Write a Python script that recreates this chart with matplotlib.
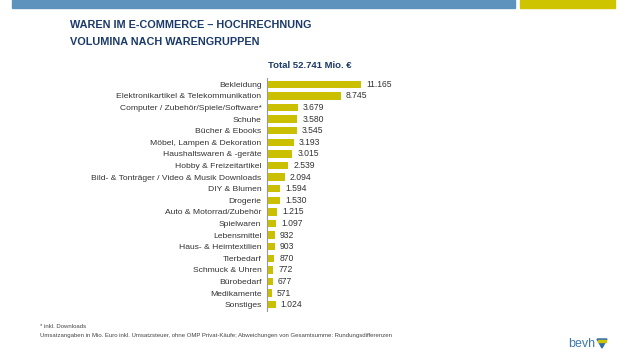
import matplotlib
matplotlib.use("Agg")
import matplotlib.pyplot as plt
from matplotlib.patches import Rectangle, Polygon

# warengruppen und umsatz in mio. euro
kategorien = ["Bekleidung", "Elektronikartikel & Telekommunikation",
              "Computer / Zubehör/Spiele/Software*", "Schuhe", "Bücher & Ebooks",
              "Möbel, Lampen & Dekoration", "Haushaltswaren & -geräte",
              "Hobby & Freizeitartikel", "Bild- & Tonträger / Video & Musik Downloads",
              "DIY & Blumen", "Drogerie", "Auto & Motorrad/Zubehör", "Spielwaren",
              "Lebensmittel", "Haus- & Heimtextilien", "Tierbedarf",
              "Schmuck & Uhren", "Bürobedarf", "Medikamente", "Sonstiges"]
werte = [11165, 8745, 3679, 3580, 3545, 3193, 3015, 2539, 2094,
         1594, 1530, 1215, 1097, 932, 903, 870, 772, 677, 571, 1024]
labels = ["11.165", "8.745", "3.679", "3.580", "3.545", "3.193", "3.015", "2.539", "2.094",
          "1.594", "1.530", "1.215", "1.097", "932", "903", "870", "772", "677", "571", "1.024"]

gelb = "#cbc000"
blau_titel = "#1b3a6b"

fig = plt.figure(figsize=(6.2, 3.5), dpi=100)
fig.patch.set_facecolor("white")

# balken oben
fig.patches.append(Rectangle((12/620, 1-8/350), 503/620, 8/350, transform=fig.transFigure,
                             color="#5e93bd", zorder=0))
fig.patches.append(Rectangle((520/620, 1-8/350), 95/620, 8/350, transform=fig.transFigure,
                             color="#cec400", zorder=0))

fig.text(70/620, 1-25/350, "WAREN IM E-COMMERCE – HOCHRECHNUNG", fontsize=7.8,
         fontweight="bold", color=blau_titel, family="Liberation Sans", va="center")
fig.text(70/620, 1-42/350, "VOLUMINA NACH WARENGRUPPEN", fontsize=7.8,
         fontweight="bold", color=blau_titel, family="Liberation Sans", va="center")
fig.text(310/620, 1-66/350, "Total 52.741 Mio. €", fontsize=6.8, fontweight="bold",
         color=blau_titel, family="Liberation Sans", ha="center", va="center")

ax = fig.add_axes([267/620, 1-310.5/350, 200/620, 232/350])
y = list(range(len(kategorien)))
ax.barh(y, werte, height=0.64, color=gelb)
ax.set_ylim(len(kategorien) - 0.5, -0.5)
ax.set_xlim(0, 11165 * 200 / 94)
ax.set_yticks(y)
ax.set_yticklabels(kategorien, fontsize=6.1, family="Liberation Sans", color="#333333")
ax.tick_params(axis="y", length=0, pad=4)
ax.set_xticks([])
for s in ["top", "right", "bottom"]:
    ax.spines[s].set_visible(False)
ax.spines["left"].set_color("#999999")
ax.spines["left"].set_linewidth(0.8)
for yi, w, t in zip(y, werte, labels):
    ax.text(w + 600, yi, t, fontsize=6.2, family="Liberation Sans", color="#333333",
            va="center", ha="left")

fig.text(40/620, 1-326.5/350, "* inkl. Downloads", fontsize=4.3,
         family="Liberation Sans", color="#444444", va="center")
fig.text(40/620, 1-336/350,
         "Umsatzangaben in Mio. Euro inkl. Umsatzsteuer, ohne OMP Privat-Käufe; Abweichungen von Gesamtsumme: Rundungsdifferenzen",
         fontsize=4.3, family="Liberation Sans", color="#444444", va="center")

# logo unten rechts
fig.text(595/620, 1-344/350, "bevh", fontsize=9, family="Liberation Sans",
         color="#3b78b0", ha="right", va="center")
fig.patches.append(Polygon([(597/620, 1-339/350), (607/620, 1-339/350), (602/620, 1-348/350)],
                           closed=True, transform=fig.transFigure, color="#2d6ca8"))
fig.patches.append(Rectangle((598/620, 1-342/350), 8/620, 2/350, transform=fig.transFigure,
                             color="#cec400"))

fig.savefig("out.png", dpi=100)
